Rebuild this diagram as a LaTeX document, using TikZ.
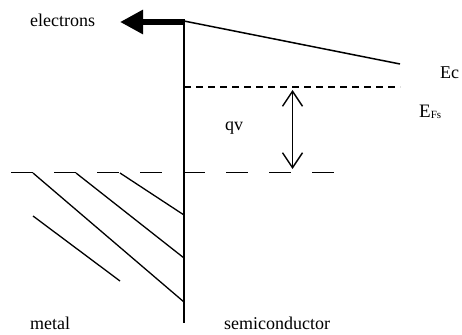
\documentclass[tikz,border=0pt]{standalone}
\usepackage{fontspec}
\setmainfont{Liberation Serif}
\usetikzlibrary{arrows.meta}

\begin{document}
\begin{tikzpicture}[
  x=1pt, y=-1pt,
  txt/.style={inner sep=0pt, anchor=base west, font=\fontsize{18}{20}\selectfont},
  band/.style={line width=1.5pt},
  tilt/.style={line width=1.3pt},
  fermi/.style={line width=1.3pt, dash pattern=on 7pt off 5pt},
  level/.style={line width=1.3pt, dash pattern=on 22pt off 21pt},
  flow/.style={line width=6pt, -{Triangle[length=23pt, width=23pt]}},
  qvarrow/.style={line width=1.4pt, {Straight Barb[length=15pt, width=20pt]}-{Straight Barb[length=15pt, width=20pt]}}
]
  \useasboundingbox (0,0) rectangle (462,334);

  % interface and conduction band
  \coordinate (top) at (184,21);
  \coordinate (bottom) at (184,323);
  \coordinate (ecend) at (400,64);
  \draw[band] (top) -- (bottom);
  \draw[band] (top) -- (ecend);

  % electron flow
  \coordinate (flowstart) at (185,22);
  \coordinate (flowtip) at (120,22);
  \draw[flow] (flowstart) -- (flowtip);
  \node[txt] (electrons) at (30,26.5) {electrons};

  % fermi levels
  \coordinate (efs) at (184,87);
  \coordinate (efsend) at (400,87);
  \draw[fermi] (efs) -- (efsend);
  \coordinate (efm) at (11,172.5);
  \coordinate (efmend) at (340,172.5);
  \draw[level] (efm) -- (efmend);

  \node[txt] (ec) at (440,79) {Ec};
  \node[txt] (efslabel) at (419,117) {\fontsize{19}{20}\selectfont E\raisebox{-1.5pt}{\fontsize{11}{12}\selectfont Fs}};

  % barrier height
  \coordinate (qvtop) at (292.5,90);
  \coordinate (qvbottom) at (292.5,169);
  \draw[qvarrow] (qvtop) -- (qvbottom);
  \node[txt] (qv) at (225,130) {qv};

  % metal states
  \draw[tilt] (33,173) -- (184,302);
  \draw[tilt] (76,173) -- (184,258);
  \draw[tilt] (120,173) -- (184,215);
  \draw[tilt] (33,216) -- (120,281);

  \node[txt] (metal) at (30,329) {metal};
  \node[txt] (semi) at (224,329) {semiconductor};
\end{tikzpicture}
\end{document}
